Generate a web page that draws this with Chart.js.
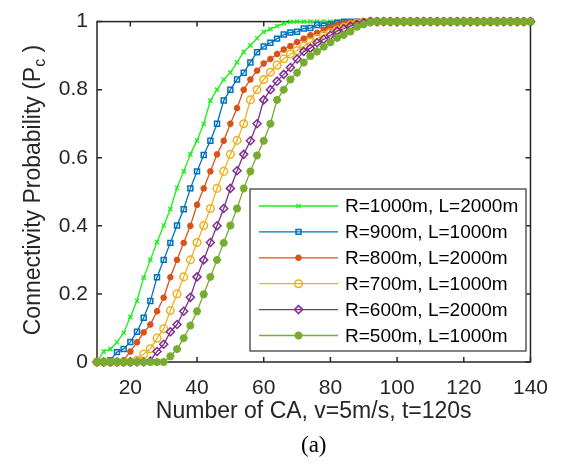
<!DOCTYPE html>
<html>
<head>
<meta charset="utf-8">
<script src="https://cdn.jsdelivr.net/npm/chart.js@4.4.1/dist/chart.umd.min.js"></script>
<style>
  html, body { margin: 0; padding: 0; background: #fff; }
</style>
</head>
<body>
<canvas id="chart" width="562" height="464"></canvas>
<script>
// number of CA (x axis)
const caCounts = [10, 12, 14, 16, 18, 20, 22, 24, 26, 28, 30, 32, 34, 36, 38, 40, 42, 44, 46, 48,
  50, 52, 54, 56, 58, 60, 62, 64, 66, 68, 70, 72, 74, 76, 78, 80, 82, 84, 86, 88,
  90, 92, 94, 96, 98, 100, 102, 104, 106, 108, 110, 112, 114, 116, 118, 120, 122, 124, 126, 128,
  130, 132, 134, 136, 138, 140];

const pR1000 = [0, 0.031, 0.038, 0.058, 0.086, 0.132, 0.18, 0.248, 0.30, 0.352, 0.401, 0.449, 0.512, 0.56, 0.61, 0.651, 0.70, 0.768, 0.80, 0.83,
  0.85, 0.88, 0.911, 0.93, 0.951, 0.97, 0.978, 0.987, 0.995, 0.999, 1, 1, 1, 1, 1, 1, 1, 1, 1, 1,
  1, 1, 1, 1, 1, 1, 1, 1, 1, 1, 1, 1, 1, 1, 1, 1, 1, 1, 1, 1,
  1, 1, 1, 1, 1, 1];
const pR900 = [0, 0, 0.005, 0.029, 0.038, 0.059, 0.089, 0.13, 0.179, 0.249, 0.30, 0.35, 0.401, 0.449, 0.51, 0.56, 0.608, 0.65, 0.70, 0.768,
  0.80, 0.83, 0.85, 0.88, 0.91, 0.927, 0.938, 0.95, 0.962, 0.968, 0.97, 0.98, 0.981, 0.99, 0.988, 0.992, 0.997, 1, 1, 1,
  1, 1, 1, 1, 1, 1, 1, 1, 1, 1, 1, 1, 1, 1, 1, 1, 1, 1, 1, 1,
  1, 1, 1, 1, 1, 1];
const pR800 = [0, 0, 0, 0, 0.005, 0.031, 0.058, 0.087, 0.11, 0.149, 0.189, 0.249, 0.30, 0.35, 0.40, 0.462, 0.51, 0.56, 0.61, 0.65,
  0.70, 0.746, 0.80, 0.83, 0.856, 0.877, 0.89, 0.905, 0.918, 0.928, 0.94, 0.95, 0.96, 0.967, 0.976, 0.983, 0.99, 0.995, 0.998, 1,
  1, 1, 1, 1, 1, 1, 1, 1, 1, 1, 1, 1, 1, 1, 1, 1, 1, 1, 1, 1,
  1, 1, 1, 1, 1, 1];
const pR700 = [0, 0, 0, 0, 0, 0, 0.005, 0.023, 0.039, 0.07, 0.098, 0.151, 0.20, 0.25, 0.30, 0.351, 0.401, 0.451, 0.51, 0.56,
  0.61, 0.651, 0.70, 0.77, 0.80, 0.83, 0.851, 0.872, 0.891, 0.905, 0.915, 0.928, 0.94, 0.95, 0.96, 0.968, 0.976, 0.983, 0.99, 0.995,
  0.998, 1, 1, 1, 1, 1, 1, 1, 1, 1, 1, 1, 1, 1, 1, 1, 1, 1, 1, 1,
  1, 1, 1, 1, 1, 1];
const pR600 = [0, 0, 0, 0, 0, 0, 0, 0, 0.003, 0.031, 0.052, 0.089, 0.11, 0.149, 0.19, 0.25, 0.30, 0.351, 0.40, 0.451,
  0.51, 0.562, 0.61, 0.65, 0.70, 0.77, 0.80, 0.825, 0.845, 0.865, 0.89, 0.912, 0.922, 0.938, 0.948, 0.96, 0.972, 0.979, 0.987, 0.992,
  0.997, 1, 1, 1, 1, 1, 1, 1, 1, 1, 1, 1, 1, 1, 1, 1, 1, 1, 1, 1,
  1, 1, 1, 1, 1, 1];
const pR500 = [0, 0, 0, 0, 0, 0, 0, 0, 0, 0, 0, 0.017, 0.038, 0.07, 0.107, 0.149, 0.199, 0.25, 0.30, 0.35,
  0.401, 0.451, 0.51, 0.56, 0.607, 0.65, 0.70, 0.77, 0.80, 0.83, 0.85, 0.88, 0.899, 0.912, 0.926, 0.939, 0.952, 0.961, 0.971, 0.985,
  0.992, 0.998, 1, 1, 1, 1, 1, 1, 1, 1, 1, 1, 1, 1, 1, 1, 1, 1, 1, 1,
  1, 1, 1, 1, 1, 1];

const seriesLabels = ['R=1000m, L=2000m', 'R=900m, L=1000m', 'R=800m, L=2000m',
  'R=700m, L=1000m', 'R=600m, L=2000m', 'R=500m, L=1000m'];
const seriesValues = [pR1000, pR900, pR800, pR700, pR600, pR500];

const xTicks = [20, 40, 60, 80, 100, 120, 140];
const yTicks = [0, 0.2, 0.4, 0.6, 0.8, 1];
const yTickLabels = ['0', '0.2', '0.4', '0.6', '0.8', '1'];

const AXIS_COLOR = '#262626';
const SANS = "'Liberation Sans', Arial, sans-serif";

// marker look per series (MATLAB-ish)
const styles = [
  { color: '#18f018', pointStyle: 'crossRot', radius: 3, fill: false, bw: 1.3 },
  { color: '#0072bd', pointStyle: 'rect', radius: 3.5, fill: false, bw: 1.5 },
  { color: '#d95319', pointStyle: 'star', radius: 3.2, fill: true, bw: 2.2 },
  { color: '#edb120', pointStyle: 'circle', radius: 3.8, fill: false, bw: 1.5 },
  { color: '#7e2f8e', pointStyle: 'rectRot', radius: 4, fill: false, bw: 1.5 },
  { color: '#77ac30', pointStyle: 'star', radius: 4, fill: true, bw: 2.4 },
];

function buildDatasets() {
  return seriesValues.map((vals, i) => {
    const s = styles[i];
    return {
      label: seriesLabels[i],
      data: caCounts.map((x, j) => ({ x, y: vals[j] })),
      borderColor: s.color,
      backgroundColor: s.fill ? s.color : 'rgba(0,0,0,0)',
      borderWidth: 1.3,
      pointStyle: s.pointStyle,
      pointRadius: s.radius,
      pointBorderWidth: s.bw,
      pointBorderColor: s.color,
      pointBackgroundColor: s.fill ? s.color : 'rgba(0,0,0,0)',
      tension: 0,
      clip: false,
      order: seriesValues.length - i,
    };
  });
}

// box + inward ticks, drawn under the data
const axesFrame = {
  id: 'axesFrame',
  beforeDatasetsDraw(chart) {
    const { ctx, chartArea: a, scales } = chart;
    ctx.save();
    ctx.strokeStyle = AXIS_COLOR;
    ctx.lineWidth = 1.5;
    ctx.strokeRect(a.left, a.top, a.right - a.left, a.bottom - a.top);
    ctx.beginPath();
    xTicks.forEach((v) => {
      const px = scales.x.getPixelForValue(v);
      ctx.moveTo(px, a.bottom);
      ctx.lineTo(px, a.bottom - 5);
      ctx.moveTo(px, a.top);
      ctx.lineTo(px, a.top + 5);
    });
    yTicks.forEach((v) => {
      const py = scales.y.getPixelForValue(v);
      ctx.moveTo(a.left, py);
      ctx.lineTo(a.left + 5, py);
      ctx.moveTo(a.right, py);
      ctx.lineTo(a.right - 5, py);
    });
    ctx.stroke();
    ctx.restore();
  },
};

// legend box inside the plot, lower right
const insideLegend = {
  id: 'insideLegend',
  afterDatasetsDraw(chart) {
    const { ctx } = chart;
    const box = { x: 250, y: 189, w: 276, h: 162 };
    ctx.save();
    ctx.fillStyle = '#fff';
    ctx.fillRect(box.x, box.y, box.w, box.h);
    ctx.strokeStyle = '#595959';
    ctx.lineWidth = 1.5;
    ctx.strokeRect(box.x, box.y, box.w, box.h);
    ctx.font = `19px ${SANS}`;
    ctx.textBaseline = 'middle';
    chart.data.datasets.forEach((ds, i) => {
      const s = styles[i];
      const y = box.y + 17 + i * 25.9;
      ctx.strokeStyle = s.color;
      ctx.lineWidth = 1.3;
      ctx.beginPath();
      ctx.moveTo(259, y);
      ctx.lineTo(338, y);
      ctx.stroke();
      ctx.fillStyle = s.fill ? s.color : 'rgba(0,0,0,0)';
      ctx.lineWidth = s.bw;
      Chart.helpers.drawPoint(ctx, { pointStyle: s.pointStyle, radius: s.radius, borderWidth: s.bw, rotation: 0 }, 298.5, y);
      ctx.fillStyle = '#000';
      ctx.fillText(ds.label, 345, y + 1);
    });
    ctx.restore();
  },
};

// axis titles and the "(a)" caption
const titles = {
  id: 'titles',
  afterDraw(chart) {
    const { ctx, chartArea: a } = chart;
    const cx = (a.left + a.right) / 2;
    ctx.save();
    ctx.fillStyle = AXIS_COLOR;
    ctx.textBaseline = 'middle';
    ctx.textAlign = 'center';
    ctx.font = `23px ${SANS}`;
    ctx.fillText('Number of CA, v=5m/s, t=120s', cx, 412);
    ctx.fillStyle = '#000';
    ctx.font = "23px 'Liberation Serif', 'Times New Roman', serif";
    ctx.fillText('(a)', cx, 446);

    // y title with subscript c
    ctx.fillStyle = AXIS_COLOR;
    ctx.translate(34, 190);
    ctx.rotate(-Math.PI / 2);
    ctx.textAlign = 'left';
    const main = 'Connectivity Probability (P';
    const sub = 'c';
    const tail = ' )';
    ctx.font = `23px ${SANS}`;
    const wMain = ctx.measureText(main).width;
    const wTail = ctx.measureText(tail).width;
    ctx.font = `16px ${SANS}`;
    const wSub = ctx.measureText(sub).width;
    const total = wMain + wSub + wTail;
    let x0 = -total / 2;
    ctx.font = `23px ${SANS}`;
    ctx.fillText(main, x0, 0);
    x0 += wMain;
    ctx.font = `16px ${SANS}`;
    ctx.fillText(sub, x0, 7);
    x0 += wSub;
    ctx.font = `23px ${SANS}`;
    ctx.fillText(tail, x0, 0);
    ctx.restore();
  },
};

Chart.defaults.font.family = SANS;
Chart.defaults.color = AXIS_COLOR;

new Chart(document.getElementById('chart'), {
  type: 'line',
  data: { datasets: buildDatasets() },
  plugins: [axesFrame, insideLegend, titles],
  options: {
    responsive: false,
    animation: false,
    devicePixelRatio: 1,
    layout: { padding: { left: 0, top: 13, right: 21, bottom: 0 } },
    plugins: { legend: { display: false }, tooltip: { enabled: false } },
    scales: {
      x: {
        type: 'linear',
        min: 10,
        max: 140,
        afterBuildTicks(scale) { scale.ticks = xTicks.map((v) => ({ value: v })); },
        afterFit(scale) { scale.height = 102; },
        grid: { display: false, drawTicks: false },
        border: { display: false },
        ticks: { font: { size: 21 }, padding: 14, maxRotation: 0, callback: (v) => String(v) },
      },
      y: {
        type: 'linear',
        min: 0,
        max: 1,
        afterBuildTicks(scale) { scale.ticks = yTicks.map((v) => ({ value: v })); },
        afterFit(scale) { scale.width = 97; },
        grid: { display: false, drawTicks: false },
        border: { display: false },
        ticks: {
          font: { size: 21 },
          padding: 9,
          callback: (v) => yTickLabels[yTicks.indexOf(v)] ?? String(v),
        },
      },
    },
  },
});
</script>
</body>
</html>
